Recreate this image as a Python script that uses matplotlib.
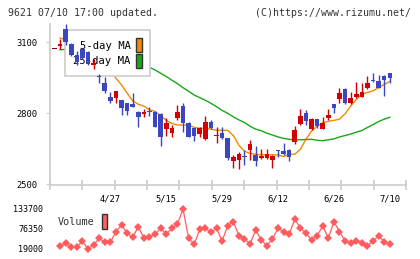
import numpy as np
import matplotlib
matplotlib.use("Agg")
import matplotlib.pyplot as plt
from matplotlib.patches import Patch
from matplotlib.ticker import FixedLocator

# trading day index -1..59 (2020/04/13 .. 2020/07/10)
opens = [3073, 3082, 3155, 3094, 3048, 3070, 3059, 3003, 2956, 2927,
         2868, 2866, 2856, 2842, 2839, 2807, 2796, 2810, 2807, 2797,
         2735, 2718, 2782, 2831, 2760, 2737, 2713, 2690, 2765, 2703,
         2718, 2694, 2600, 2603, 2620, 2645, 2624, 2610, 2610, 2604,
         2645, 2642, 2645, 2680, 2755, 2803, 2734, 2775, 2734, 2779,
         2839, 2860, 2903, 2842, 2868, 2870, 2908, 2941, 2937, 2958, 2969]
highs = [3073, 3113, 3175, 3096, 3062, 3073, 3062, 3031, 2965, 2955,
         2889, 2894, 2858, 2845, 2884, 2808, 2817, 2828, 2809, 2799,
         2779, 2751, 2835, 2842, 2762, 2739, 2744, 2789, 2772, 2744,
         2744, 2696, 2624, 2638, 2645, 2687, 2662, 2648, 2648, 2624,
         2646, 2673, 2648, 2746, 2817, 2814, 2779, 2777, 2783, 2817,
         2841, 2908, 2908, 2891, 2934, 2929, 2958, 2969, 2962, 2962, 2971]
lows = [3073, 3073, 3090, 3043, 3003, 3031, 3003, 2989, 2927, 2887,
        2845, 2842, 2793, 2793, 2826, 2744, 2786, 2789, 2744, 2663,
        2704, 2701, 2772, 2722, 2699, 2683, 2701, 2687, 2735, 2673,
        2690, 2603, 2570, 2563, 2582, 2603, 2577, 2608, 2606, 2568,
        2617, 2625, 2600, 2670, 2751, 2751, 2730, 2737, 2732, 2772,
        2800, 2842, 2840, 2840, 2866, 2868, 2903, 2934, 2906, 2875, 2927]
closes = [3073, 3093, 3099, 3045, 3017, 3034, 3006, 3014, 2953, 2896,
          2853, 2893, 2821, 2811, 2828, 2786, 2807, 2805, 2744, 2701,
          2760, 2739, 2807, 2760, 2701, 2704, 2737, 2763, 2737, 2708,
          2694, 2610, 2617, 2628, 2617, 2670, 2600, 2621, 2628, 2621,
          2639, 2628, 2617, 2730, 2789, 2769, 2775, 2746, 2758, 2793,
          2824, 2884, 2842, 2863, 2882, 2889, 2927, 2938, 2908, 2941, 2951]

# moving averages, index 0..59
ma5 = [3118, 3110, 3100, 3085, 3075, 3060, 3045, 3025, 3008, 2982,
       2948, 2920, 2885, 2852, 2838, 2830, 2815, 2808, 2790, 2770,
       2757, 2751, 2750, 2751, 2740, 2737, 2737, 2733, 2728, 2728,
       2728, 2706, 2665, 2640, 2630, 2627, 2625, 2624, 2625, 2624,
       2617, 2627, 2627, 2648, 2690, 2725, 2745, 2760, 2766, 2770,
       2775, 2798, 2830, 2858, 2880, 2888, 2895, 2908, 2922, 2934]
ma25 = [3068, 3070, 3070, 3068, 3066, 3063, 3060, 3056, 3052, 3046,
        3040, 3033, 3026, 3018, 3010, 3004, 2994, 2983, 2969, 2955,
        2940, 2925, 2908, 2893, 2877, 2866, 2855, 2842, 2828, 2812,
        2800, 2785, 2772, 2761, 2745, 2733, 2726, 2716, 2708, 2700,
        2694, 2690, 2688, 2688, 2689, 2690, 2686, 2684, 2688, 2692,
        2700, 2706, 2712, 2720, 2727, 2740, 2752, 2765, 2775, 2783]

volume = [25700, 33600, 21900, 21900, 40300, 17000, 28600, 48100, 36500, 36500,
          67400, 86900, 62700, 51100, 82000, 48100, 52900, 59800, 77300, 59800,
          77300, 89000, 133600, 48100, 30700, 74400, 77300, 65600, 77300, 40300,
          84900, 96600, 55800, 46100, 31500, 72400, 43200, 26600, 46100, 77300,
          67400, 59800, 104400, 77300, 62700, 43200, 55800, 84000, 49000, 96600,
          67400, 40300, 33600, 40300, 33600, 26600, 40300, 54900, 38400, 31500]

date_labels = ["4/27", "5/15", "5/29", "6/12", "6/26", "7/10"]
date_idx = [9, 19, 29, 39, 49, 59]
price_ticks = [2500, 2800, 3100]
vol_ticks = [19000, 76350, 133700]

RED = "#d40000"
BLUE = "#3c46be"
GRAY = "#cccccc"
MONO = "DejaVu Sans Mono"

fig = plt.figure(figsize=(4.2, 2.59), dpi=100)
ax = fig.add_axes([50 / 420, 74 / 259, 356 / 420, 161 / 259])
axv = fig.add_axes([50 / 420, 4 / 259, 356 / 420, 52 / 259])

x = np.arange(-1, len(closes) - 1)
o = np.array(opens)
c = np.array(closes)
colors = [RED if cc > oo else (BLUE if cc < oo else "#800000") for oo, cc in zip(o, c)]

ax.vlines(x, lows, highs, colors=colors, lw=1, zorder=5)
ax.bar(x, np.maximum(np.abs(c - o), 3), bottom=np.minimum(o, c), width=0.82,
       color=colors, lw=0, zorder=6)

xm = np.arange(len(ma5))
ax.plot(xm, ma5, color="#f08a00", lw=1, zorder=2)
ax.plot(xm, ma25, color="#16a816", lw=1, zorder=2)

handles = [Patch(facecolor="#f08a00", edgecolor="#333333", lw=1),
           Patch(facecolor="#16a816", edgecolor="#333333", lw=1)]
leg = ax.legend(handles, ["5-day MA", "25-day MA"], loc="upper left",
                bbox_to_anchor=(0.043, 0.963), markerfirst=False, fancybox=False,
                framealpha=1, edgecolor=GRAY, borderpad=0.75, labelspacing=0.12,
                handlelength=0.55, handleheight=1.75, handletextpad=0.55,
                borderaxespad=0, prop={"family": MONO, "size": 7.6})
leg.get_frame().set_linewidth(1.2)
leg.set_zorder(3)

ax.set_xlim(-1.8, 61.9)
ax.set_ylim(2497, 3177)
for s in ["top", "right"]:
    ax.spines[s].set_visible(False)
for s in ["left", "bottom"]:
    ax.spines[s].set_color(GRAY)
    ax.spines[s].set_linewidth(1.2)
ax.set_yticks(price_ticks)
ax.set_yticklabels([str(t) for t in price_ticks], family=MONO, fontsize=6.3)
ax.tick_params(axis="y", length=3, color=GRAY, pad=6)
ax.set_xticks(date_idx)
ax.set_xticklabels(date_labels, family=MONO, fontsize=6.3)
ax.tick_params(axis="x", which="major", length=0, pad=7)
ax.xaxis.set_minor_locator(FixedLocator(np.linspace(-1.8, 61.9, 12)))
ax.tick_params(axis="x", which="minor", direction="inout", length=7, color=GRAY, width=1.2)

axv.plot(np.arange(len(volume)), volume, color="#ff5c60", lw=0.9, marker="D",
         markersize=4.4, markeredgewidth=0)
axv.set_xlim(-1.8, 61.9)
axv.set_ylim(-600, 151000)
for s in axv.spines.values():
    s.set_visible(False)
axv.set_xticks([])
axv.set_yticks(vol_ticks)
axv.set_yticklabels([str(t) for t in vol_ticks], family=MONO, fontsize=6)
axv.tick_params(axis="y", length=0, pad=5)

fig.text(58 / 420, 1 - 222 / 259, "Volume", family=MONO, fontsize=7.3,
         va="center", ha="left", color="#333333")
fig.patches.append(plt.Rectangle((101.5 / 420, 1 - 228.5 / 259), 5.8 / 420, 15 / 259,
                                 transform=fig.transFigure, facecolor="#ff6060",
                                 edgecolor="#333333", lw=1))

fig.text(8 / 420, 1 - 13 / 259, "9621 07/10 17:00 updated.", family=MONO,
         fontsize=7.1, va="center", ha="left", color="#333333")
fig.text(411 / 420, 1 - 13 / 259, "(C)https://www.rizumu.net/", family=MONO,
         fontsize=7.1, va="center", ha="right", color="#333333")

fig.savefig("out.png", dpi=100)
